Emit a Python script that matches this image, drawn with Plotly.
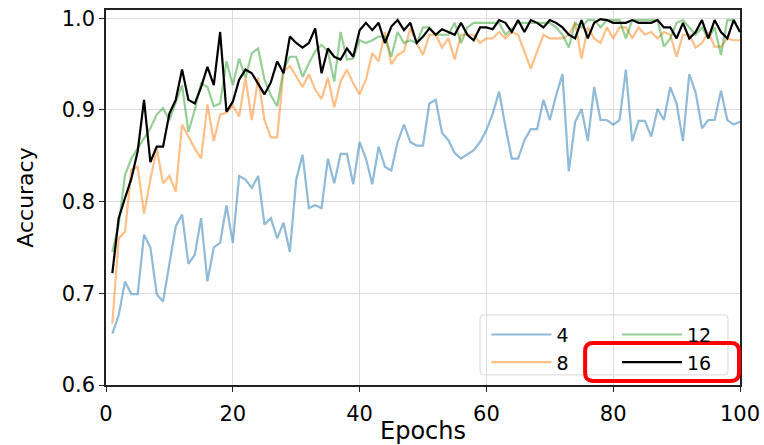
import plotly.graph_objects as go

epochs = list(range(1, 101))

acc_4 = [0.656, 0.676, 0.713, 0.699, 0.699, 0.764, 0.750, 0.699, 0.691, 0.731,
         0.773, 0.786, 0.732, 0.742, 0.782, 0.713, 0.750, 0.755, 0.796, 0.755,
         0.828, 0.824, 0.815, 0.828, 0.775, 0.782, 0.760, 0.777, 0.745, 0.824,
         0.851, 0.793, 0.796, 0.793, 0.847, 0.820, 0.852, 0.852, 0.819, 0.865,
         0.847, 0.819, 0.860, 0.838, 0.834, 0.865, 0.884, 0.865, 0.861, 0.861,
         0.907, 0.911, 0.875, 0.867, 0.853, 0.847, 0.852, 0.856, 0.865, 0.878,
         0.896, 0.920, 0.882, 0.847, 0.847, 0.867, 0.879, 0.879, 0.911, 0.889,
         0.916, 0.939, 0.833, 0.887, 0.901, 0.866, 0.925, 0.889, 0.889, 0.884,
         0.889, 0.944, 0.866, 0.888, 0.888, 0.871, 0.901, 0.889, 0.925, 0.907,
         0.866, 0.939, 0.919, 0.880, 0.889, 0.889, 0.921, 0.889, 0.884, 0.887]

acc_8 = [0.667, 0.760, 0.767, 0.835, 0.838, 0.787, 0.824, 0.858, 0.820, 0.828,
         0.811, 0.884, 0.871, 0.858, 0.847, 0.906, 0.866, 0.895, 0.897, 0.905,
         0.893, 0.935, 0.889, 0.935, 0.889, 0.870, 0.870, 0.942, 0.948, 0.936,
         0.925, 0.939, 0.922, 0.912, 0.935, 0.903, 0.931, 0.944, 0.929, 0.917,
         0.933, 0.962, 0.953, 0.985, 0.950, 0.960, 0.964, 0.989, 0.973, 0.960,
         0.982, 0.982, 0.968, 0.978, 0.955, 0.982, 0.982, 0.982, 0.973, 0.978,
         0.978, 0.985, 0.978, 0.985, 0.982, 0.964, 0.945, 0.964, 0.982, 0.978,
         0.978, 0.978, 0.982, 0.995, 0.956, 0.990, 0.978, 0.973, 0.990, 0.978,
         0.990, 0.990, 0.978, 0.990, 0.982, 0.985, 0.978, 0.985, 0.982, 0.958,
         0.982, 0.982, 0.968, 0.973, 0.985, 0.969, 0.969, 0.978, 0.976, 0.976]

acc_12 = [0.745, 0.775, 0.829, 0.847, 0.858, 0.869, 0.880, 0.895, 0.902, 0.889,
          0.909, 0.927, 0.876, 0.900, 0.929, 0.925, 0.904, 0.907, 0.953, 0.927,
          0.956, 0.935, 0.962, 0.967, 0.933, 0.916, 0.904, 0.944, 0.958, 0.958,
          0.936, 0.951, 0.964, 0.971, 0.964, 0.931, 0.985, 0.955, 0.956, 0.976,
          0.973, 0.976, 0.980, 0.980, 0.958, 0.985, 0.973, 0.976, 0.973, 0.990,
          0.990, 0.982, 0.982, 0.982, 0.995, 0.973, 0.990, 0.995, 0.995, 0.995,
          0.995, 0.995, 0.982, 0.989, 0.995, 0.995, 0.995, 0.995, 0.995, 0.995,
          0.990, 0.982, 0.968, 0.995, 0.990, 0.998, 0.998, 0.990, 0.998, 0.998,
          0.998, 0.978, 0.998, 0.998, 0.998, 0.998, 0.998, 0.969, 0.978, 0.995,
          0.998, 0.990, 0.982, 0.990, 0.978, 0.990, 0.960, 0.998, 0.998, 0.985]

acc_16 = [0.722, 0.782, 0.804, 0.825, 0.855, 0.911, 0.843, 0.860, 0.860, 0.896,
          0.911, 0.944, 0.911, 0.907, 0.925, 0.947, 0.927, 0.985, 0.898, 0.909,
          0.933, 0.944, 0.940, 0.929, 0.917, 0.930, 0.953, 0.940, 0.980, 0.973,
          0.968, 0.973, 0.989, 0.940, 0.967, 0.958, 0.955, 0.967, 0.958, 0.987,
          0.995, 0.987, 0.995, 0.973, 0.991, 0.998, 0.987, 0.995, 0.973, 0.980,
          0.989, 0.982, 0.988, 0.985, 0.982, 0.995, 0.982, 0.976, 0.990, 0.990,
          0.988, 0.998, 0.995, 0.985, 0.998, 0.985, 0.998, 0.995, 0.990, 0.998,
          0.995, 0.990, 0.982, 0.978, 0.998, 0.978, 0.995, 0.999, 0.998, 0.995,
          0.995, 0.995, 0.998, 0.995, 0.995, 0.995, 0.998, 0.990, 0.990, 0.978,
          0.995, 0.978, 0.985, 0.998, 0.978, 0.998, 0.985, 0.978, 0.998, 0.985]

series_names = ["4", "8", "12", "16"]
series_values = [acc_4, acc_8, acc_12, acc_16]
series_colors = ["rgba(31,119,180,0.5)", "rgba(255,127,14,0.5)",
                 "rgba(44,160,44,0.5)", "rgb(0,0,0)"]
series_legend = ["legend", "legend", "legend2", "legend2"]

x_ticks = [0, 20, 40, 60, 80, 100]
y_ticks = [0.6, 0.7, 0.8, 0.9, 1.0]

FONT = "DejaVu Sans"

fig = go.Figure()
for name, vals, col, lg in zip(series_names, series_values, series_colors, series_legend):
    fig.add_trace(go.Scatter(
        x=epochs, y=vals, mode="lines", name=name,
        line=dict(color=col, width=2.2), legend=lg,
    ))


def rounded(x0, x1, y0, y1, rx, ry):
    return (f"M{x0+rx},{y0} L{x1-rx},{y0} Q{x1},{y0} {x1},{y0+ry} "
            f"L{x1},{y1-ry} Q{x1},{y1} {x1-rx},{y1} L{x0+rx},{y1} "
            f"Q{x0},{y1} {x0},{y1-ry} L{x0},{y0+ry} Q{x0},{y0} {x0+rx},{y0} Z")


# legend frame (above gridlines, below traces)
fig.add_shape(type="path", xref="paper", yref="paper",
              path=rounded(0.590, 0.981, 0.027, 0.187, 0.006, 0.01),
              fillcolor="rgba(255,255,255,0.8)", line=dict(color="#d8d8d8", width=1),
              layer="between")

# red rounded highlight box around the "16" entry
fig.add_shape(type="path", xref="paper", yref="paper",
              path=rounded(0.7557, 0.9984, 0.0107, 0.112, 0.0126, 0.0213),
              line=dict(color="rgb(255,0,0)", width=4), layer="above")

legend_common = dict(
    orientation="v", xanchor="left", yanchor="top",
    bgcolor="rgba(0,0,0,0)", borderwidth=0,
    font=dict(family=FONT, size=19), itemwidth=60, tracegroupgap=0,
)

fig.update_layout(
    width=764, height=445,
    margin=dict(l=106, r=24, t=10, b=60),
    paper_bgcolor="white", plot_bgcolor="white",
    font=dict(family=FONT, color="black"),
    showlegend=True,
    legend=dict(x=0.600, y=0.185, **legend_common),
    legend2=dict(x=0.806, y=0.185, **legend_common),
    xaxis=dict(
        range=[0, 100], tickvals=x_ticks, ticktext=[str(v) for v in x_ticks],
        showgrid=True, gridcolor="#dcdcdc", gridwidth=1,
        showline=True, linecolor="#222222", linewidth=1.5, mirror=True,
        ticks="outside", ticklen=5, tickcolor="#222222", ticklabelstandoff=4,
        tickfont=dict(family=FONT, size=21), zeroline=False, automargin=False,
        title=dict(text="Epochs", font=dict(family=FONT, size=24), standoff=2),
    ),
    yaxis=dict(
        range=[0.6, 1.009], tickvals=y_ticks, ticktext=[f"{v:.1f}" for v in y_ticks],
        showgrid=True, gridcolor="#dcdcdc", gridwidth=1,
        showline=True, linecolor="#222222", linewidth=1.5, mirror=True,
        ticks="outside", ticklen=5, tickcolor="#222222",
        tickfont=dict(family=FONT, size=21), zeroline=False, automargin=False,
        title=dict(text="Accuracy", font=dict(family=FONT, size=22), standoff=22),
    ),
)

fig.write_html("out.html")
